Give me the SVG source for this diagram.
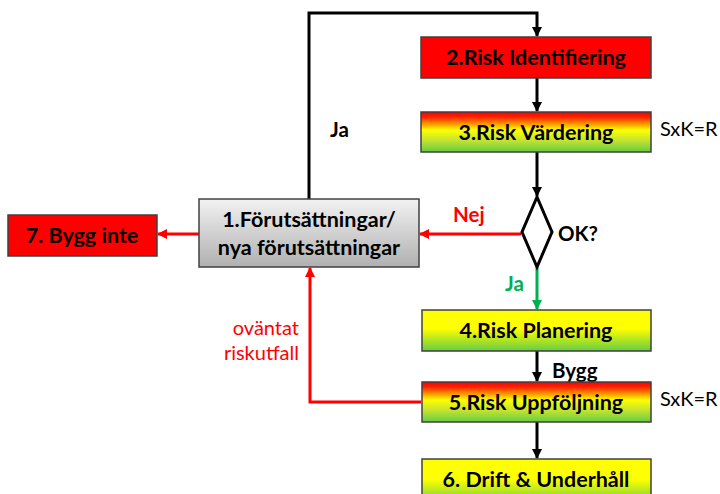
<svg xmlns="http://www.w3.org/2000/svg" width="720" height="494" viewBox="0 0 720 494">
<defs>
<linearGradient id="gRYG" x1="0" y1="0" x2="0" y2="1">
<stop offset="0" stop-color="#ff0000"/>
<stop offset="0.12" stop-color="#ff2000"/>
<stop offset="0.45" stop-color="#ffff00"/>
<stop offset="0.7" stop-color="#c6e430"/>
<stop offset="1" stop-color="#66cc44"/>
</linearGradient>
<linearGradient id="gYG" x1="0" y1="0" x2="0" y2="1">
<stop offset="0" stop-color="#ffff00"/>
<stop offset="0.45" stop-color="#ffff00"/>
<stop offset="1" stop-color="#66cc44"/>
</linearGradient>
<linearGradient id="gGray" x1="0" y1="0" x2="0" y2="1">
<stop offset="0" stop-color="#f2f2f2"/>
<stop offset="1" stop-color="#b0b0b0"/>
</linearGradient>
<marker id="aBlack" markerWidth="10" markerHeight="10" refX="9" refY="5" orient="auto" markerUnits="userSpaceOnUse"><path d="M0,0 L10,5 L0,10 z" fill="#000"/></marker>
<marker id="aRed" markerWidth="10" markerHeight="10" refX="9" refY="5" orient="auto" markerUnits="userSpaceOnUse"><path d="M0,0 L10,5 L0,10 z" fill="#ff0000"/></marker>
<marker id="aGreen" markerWidth="10" markerHeight="10" refX="9" refY="5" orient="auto" markerUnits="userSpaceOnUse"><path d="M0,0 L10,5 L0,10 z" fill="#00b050"/></marker>
</defs>
<style>
.box{stroke:#404040;stroke-width:1.5}
.t{font-family:Lato,"Open Sans","Liberation Sans",sans-serif;font-weight:bold;font-size:21.5px;text-anchor:middle;fill:#000}
.lbl{font-family:Lato,"Open Sans","Liberation Sans",sans-serif;font-weight:bold;font-size:20.5px}
.n{font-family:Lato,"Open Sans","Liberation Sans",sans-serif;font-size:20px;fill:#000}
.k{fill:none;stroke:#000;stroke-width:3}
.r{fill:none;stroke:#ff0000;stroke-width:3}
.g{fill:none;stroke:#00b050;stroke-width:3}
</style>
<g id="connectors">
<path class="k" d="M309,199 V13 H537 V36" marker-end="url(#aBlack)"/>
<path class="k" d="M537,78 V111" marker-end="url(#aBlack)"/>
<path class="k" d="M537,152 V196" marker-end="url(#aBlack)"/>
<path class="r" d="M521,234 H420" marker-end="url(#aRed)"/>
<path class="r" d="M199,234 H158" marker-end="url(#aRed)"/>
<path class="g" d="M537,267 V309" marker-end="url(#aGreen)"/>
<path class="k" d="M537,351 V381" marker-end="url(#aBlack)"/>
<path class="k" d="M537,422 V458" marker-end="url(#aBlack)"/>
<path class="r" d="M421,402 H310 V268" marker-end="url(#aRed)"/>
<text class="lbl" x="330" y="137" fill="#000">Ja</text>
<text class="lbl" x="453" y="222" fill="#ff0000">Nej</text>
<text class="lbl" x="505" y="291" fill="#00b050">Ja</text>
<text class="lbl" x="552" y="378" fill="#000">Bygg</text>
<text class="n" x="299" y="335" text-anchor="end" style="fill:#ff0000">oväntat</text>
<text class="n" x="299" y="360" text-anchor="end" style="fill:#ff0000">riskutfall</text>
</g>
<g id="n2"><rect class="box" x="421" y="37" width="230" height="41" fill="#ff0000"/><text class="t" x="536" y="65">2.Risk Identifiering</text></g>
<g id="n3"><rect class="box" x="421" y="112" width="230" height="40" fill="url(#gRYG)"/><text class="t" x="536" y="140">3.Risk Värdering</text><text class="n" x="660" y="136" text-anchor="start">SxK=R</text></g>
<g id="nOK"><path d="M537,197 L552,232 L537,267 L522,232 Z" fill="#fff" stroke="#000" stroke-width="3"/><text class="lbl" x="558" y="241" fill="#000">OK?</text></g>
<g id="n1"><rect class="box" x="199" y="199" width="220" height="68" fill="url(#gGray)"/><text class="t" x="309" y="227">1.Förutsättningar/</text><text class="t" x="309" y="255">nya förutsättningar</text></g>
<g id="n7"><rect class="box" x="8" y="215" width="149" height="41" fill="#ff0000"/><text class="t" x="82" y="243">7. Bygg inte</text></g>
<g id="n4"><rect class="box" x="422" y="310" width="229" height="41" fill="url(#gYG)"/><text class="t" x="536" y="338">4.Risk Planering</text></g>
<g id="n5"><rect class="box" x="422" y="382" width="229" height="40" fill="url(#gRYG)"/><text class="t" x="536" y="410">5.Risk Uppföljning</text><text class="n" x="660" y="406" text-anchor="start">SxK=R</text></g>
<g id="n6"><rect class="box" x="422" y="459" width="229" height="45" fill="url(#gYG)"/><text class="t" x="536" y="487">6. Drift &amp; Underhåll</text></g>
</svg>
